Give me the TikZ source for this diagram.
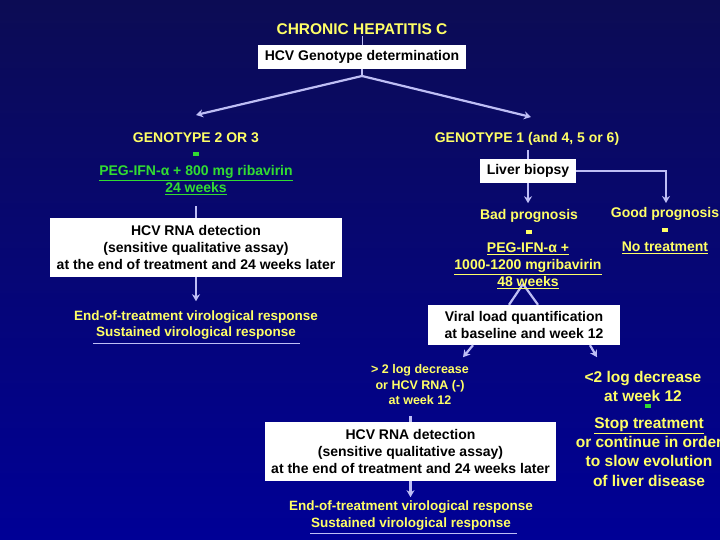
\documentclass[tikz,border=0pt]{standalone}
\usepackage{fontspec}
\setmainfont{Liberation Sans}
\usepackage{xcolor}
\usetikzlibrary{arrows.meta, positioning, calc, backgrounds}
\definecolor{bgtop}{RGB}{12,12,84}
\definecolor{bgbot}{RGB}{0,0,150}
\definecolor{ylw}{RGB}{255,255,102}
\definecolor{grn}{RGB}{50,220,50}
\definecolor{lav}{RGB}{190,190,245}

\begin{document}
\begin{tikzpicture}[x=1pt, y=-1pt,
    box/.style={fill=white, text=black, font=\bfseries\fontsize{14}{17}\selectfont, align=center, inner sep=0pt},
    lbl/.style={text=ylw, font=\bfseries\fontsize{14}{17}\selectfont, align=center, inner sep=1pt},
    arr/.style={draw=lav, line width=2.2pt, -{Stealth[length=7pt, width=8pt]}},
    ln/.style={draw=lav, line width=2.2pt},
    dotbar/.style={minimum width=6pt, minimum height=4pt, inner sep=0pt}]
    \useasboundingbox (0,0) rectangle (720,540);

    % top
    \node[lbl, font=\bfseries\fontsize{15.5}{18}\selectfont] (title) at (362,29) {CHRONIC HEPATITIS C};
    \node[box, minimum width=208pt, minimum height=24pt] (geno) at (362,57) {HCV Genotype determination};
    \coordinate (split) at (362,76);
    \coordinate (tipL) at (196,115);
    \coordinate (tipR) at (531,117);

    % genotype 2 or 3
    \node[lbl] (gt23) at (196,138) {GENOTYPE 2 OR 3};
    \node[dotbar, fill=grn] (bar23) at (196,154) {};
    \node[lbl, text=grn] (peg23) at (196,180) {\underline{PEG-IFN-α + 800 mg ribavirin}\\\underline{24 weeks}};
    \node[box, minimum width=292pt, minimum height=59pt] (rna23) at (196,247.5) {HCV RNA detection\\(sensitive qualitative assay)\\at the end of treatment and 24 weeks later};
    \node[lbl, font=\bfseries\fontsize{13.5}{16.5}\selectfont] (resp23) at (196,325) {End-of-treatment virological response\\Sustained virological response};

    % genotype 1
    \node[lbl] (gt1) at (527,139) {GENOTYPE 1 (and 4, 5 or 6)};
    \node[box, minimum width=96pt, minimum height=24pt] (biopsy) at (528,171) {Liver biopsy};
    \node[lbl] (bad) at (529,216) {Bad prognosis};
    \node[lbl] (good) at (665,214) {Good prognosis};
    \node[dotbar, fill=ylw] (barbad) at (529,232) {};
    \node[dotbar, fill=ylw] (bargood) at (665,230) {};
    \node[lbl] (notreat) at (665,248) {\underline{No treatment}};
    \node[lbl] (peg1) at (528,266) {\underline{PEG-IFN-α +}\\\underline{1000-1200 mgribavirin}\\\underline{48 weeks}};
    \node[box, minimum width=192pt, minimum height=40pt] (viral) at (524,325) {Viral load quantification\\at baseline and week 12};
    \coordinate (apex) at (523,284);
    \coordinate (goodtip) at (666,203);

    % week 12 response
    \node[lbl, font=\bfseries\fontsize{12.5}{15.5}\selectfont] (resp) at (420,385) {> 2 log decrease\\or HCV RNA (-)\\at week 12};
    \node[box, minimum width=291pt, minimum height=59pt] (rna1) at (410.5,451.5) {HCV RNA detection\\(sensitive qualitative assay)\\at the end of treatment and 24 weeks later};
    \node[lbl, font=\bfseries\fontsize{13.5}{16.5}\selectfont] (resp1) at (411,515.5) {End-of-treatment virological response\\Sustained virological response};
    \node[lbl, font=\bfseries\fontsize{15.5}{19}\selectfont] (nonresp) at (643,386.5) {<2 log decrease\\at week 12};
    \node[dotbar, fill=grn] (barstop) at (648,406) {};
    \node[lbl, font=\bfseries\fontsize{15.5}{19.3}\selectfont] (stop) at (649,452) {\underline{Stop treatment}\\or continue in order\\to slow evolution\\of liver disease};

    \draw[ln, line width=1pt] (title) -- (geno);
    \draw[ln] (geno) -- (split);
    \draw[arr] (split) -- (tipL);
    \draw[arr] (split) -- (tipR);
    \draw[ln] (rna23.north) -- ++(0,-12);
    \draw[arr] (rna23.south) -- ++(0,24);
    \draw[ln, line width=1pt] (93,343) -- (300,343);
    \draw[ln] (biopsy.north) -- ++(0,-9);
    \draw[arr] (biopsy.south) -- ++(0,20);
    \draw[arr] (biopsy.east) -| (goodtip);
    \draw[arr] ([xshift=-51pt]viral.south) -- ++(-10,12);
    \draw[arr] ([xshift=66pt]viral.south) -- ++(7,12);
    \draw[ln] (rna1.north) -- ++(0,-6);
    \draw[arr] (rna1.south) -- ++(0,16);
    \draw[ln, line width=1pt] (310,533) -- (517,533);

    \begin{scope}[on background layer]
    \shade[top color=bgtop, bottom color=bgbot] (0,0) rectangle (720,540);
    \draw[ln] (apex) -- ([xshift=-15pt]viral.north);
    \draw[ln] (apex) -- ([xshift=14pt]viral.north);
    \end{scope}
\end{tikzpicture}
\end{document}
